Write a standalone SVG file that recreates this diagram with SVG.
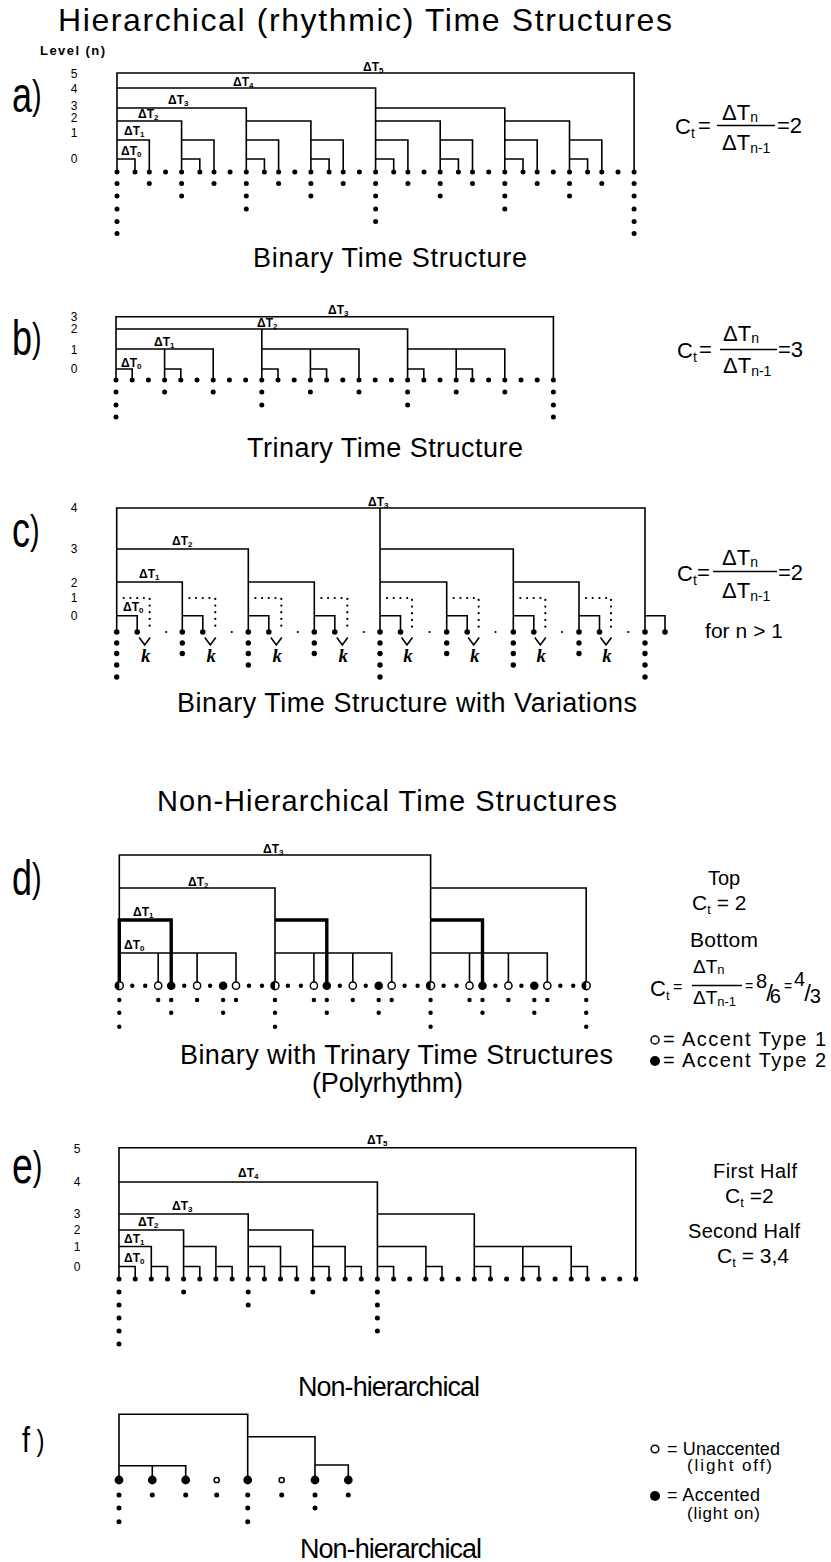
<svg xmlns="http://www.w3.org/2000/svg" width="831" height="1562" viewBox="0 0 831 1562">
<style>
.ln{fill:none;stroke:#000;stroke-width:1.6}
.tk{fill:none;stroke:#000;stroke-width:3.4}
.dl{fill:none;stroke:#000;stroke-width:2.2;stroke-dasharray:0.1 6.6;stroke-linecap:round}
.d{fill:#000}
.o{fill:#fff;stroke:#000;stroke-width:1.5}
text{font-family:"Liberation Sans",Arial,sans-serif;fill:#000}
.h{font-size:27px}
.dt{font-size:12px;font-weight:bold}
.lv{font-size:12px;text-anchor:middle;fill:#000}
.eq{font-size:22px}
.sb{font-size:14px}
.lg{font-size:20px}
.k{font-family:"Liberation Serif",serif;font-style:italic;font-weight:bold;font-size:19px;text-anchor:middle}
</style>
<defs>
<g id="half"><circle r="4" fill="#fff" stroke="#000" stroke-width="1.5"/><path d="M0 -4A4 4 0 0 0 0 4Z" fill="#000"/></g>
</defs>
<rect width="831" height="1562" fill="#fff"/>

<text x="58" y="31" font-size="32" textLength="614" lengthAdjust="spacing">Hierarchical (rhythmic) Time Structures</text>

<!-- ===== a ===== -->
<g id="section-a">
<text transform="translate(12,112) scale(0.72,1)"><tspan font-size="50">a</tspan><tspan font-size="40" dy="-3">)</tspan></text>
<text x="40" y="55" font-size="13" font-weight="bold" textLength="65">Level (n)</text>
<text class="lv" x="74" y="77.5">5</text><text class="lv" x="74" y="93">4</text><text class="lv" x="74" y="110">3</text><text class="lv" x="74" y="121.5">2</text><text class="lv" x="74" y="137">1</text><text class="lv" x="74" y="163">0</text>
<g id="a-connectors">
<path class="ln" d="M117 172V73H634.1V172M117 88H375.6V172M117 108H246.3V172M375.6 108H504.8V172M117 121H181.6V172M246.3 121H310.9V172M375.6 121H440.2V172M504.8 121H569.5V172M117 140H149.3V172M181.6 140H214V172M246.3 140H278.6V172M310.9 140H343.2V172M375.6 140H407.9V172M440.2 140H472.5V172M504.8 140H537.2V172M569.5 140H601.8V172M117 159H135V172M181.6 159H199.8V172M246.3 159H264.4V172M310.9 159H329.1V172M375.6 159H393.7V172M440.2 159H458.4V172M504.8 159H523V172M569.5 159H587.6V172"/>
</g>
<g id="a-labels">
<text class="dt" x="363" y="71">ΔT<tspan font-size="8" dy="2">5</tspan></text>
<text class="dt" x="233" y="86">ΔT<tspan font-size="8" dy="2">4</tspan></text>
<text class="dt" x="168" y="104">ΔT<tspan font-size="8" dy="2">3</tspan></text>
<text class="dt" x="138" y="118">ΔT<tspan font-size="8" dy="2">2</tspan></text>
<text class="dt" x="124" y="135">ΔT<tspan font-size="8" dy="2">1</tspan></text>
<text class="dt" x="121" y="155">ΔT<tspan font-size="8" dy="2">0</tspan></text>
</g>
<g id="a-dots">
<circle class="d" cx="117" cy="172" r="2.5"/><circle class="d" cx="135" cy="172" r="2.5"/><circle class="d" cx="149.3" cy="172" r="2.5"/><circle class="d" cx="165.5" cy="172" r="2.5"/><circle class="d" cx="181.6" cy="172" r="2.5"/><circle class="d" cx="199.8" cy="172" r="2.5"/><circle class="d" cx="214" cy="172" r="2.5"/><circle class="d" cx="230.1" cy="172" r="2.5"/><circle class="d" cx="246.3" cy="172" r="2.5"/><circle class="d" cx="264.4" cy="172" r="2.5"/><circle class="d" cx="278.6" cy="172" r="2.5"/><circle class="d" cx="294.8" cy="172" r="2.5"/><circle class="d" cx="310.9" cy="172" r="2.5"/><circle class="d" cx="329.1" cy="172" r="2.5"/><circle class="d" cx="343.2" cy="172" r="2.5"/><circle class="d" cx="359.4" cy="172" r="2.5"/><circle class="d" cx="375.6" cy="172" r="2.5"/><circle class="d" cx="393.7" cy="172" r="2.5"/><circle class="d" cx="407.9" cy="172" r="2.5"/><circle class="d" cx="424" cy="172" r="2.5"/><circle class="d" cx="440.2" cy="172" r="2.5"/><circle class="d" cx="458.4" cy="172" r="2.5"/><circle class="d" cx="472.5" cy="172" r="2.5"/><circle class="d" cx="488.7" cy="172" r="2.5"/><circle class="d" cx="504.8" cy="172" r="2.5"/><circle class="d" cx="523" cy="172" r="2.5"/><circle class="d" cx="537.2" cy="172" r="2.5"/><circle class="d" cx="553.3" cy="172" r="2.5"/><circle class="d" cx="569.5" cy="172" r="2.5"/><circle class="d" cx="587.6" cy="172" r="2.5"/><circle class="d" cx="601.8" cy="172" r="2.5"/><circle class="d" cx="618" cy="172" r="2.5"/><circle class="d" cx="634.1" cy="172" r="2.5"/>
<circle class="d" cx="117" cy="183.5" r="2.5"/><circle class="d" cx="117" cy="196" r="2.5"/><circle class="d" cx="117" cy="209" r="2.5"/><circle class="d" cx="117" cy="221.5" r="2.5"/><circle class="d" cx="117" cy="233.5" r="2.5"/>
<circle class="d" cx="634.1" cy="183.5" r="2.5"/><circle class="d" cx="634.1" cy="196" r="2.5"/><circle class="d" cx="634.1" cy="209" r="2.5"/><circle class="d" cx="634.1" cy="221.5" r="2.5"/><circle class="d" cx="634.1" cy="233.5" r="2.5"/>
<circle class="d" cx="375.6" cy="183.5" r="2.5"/><circle class="d" cx="375.6" cy="196" r="2.5"/><circle class="d" cx="375.6" cy="209" r="2.5"/><circle class="d" cx="375.6" cy="221.5" r="2.5"/>
<circle class="d" cx="246.3" cy="183.5" r="2.5"/><circle class="d" cx="246.3" cy="196" r="2.5"/><circle class="d" cx="246.3" cy="209" r="2.5"/>
<circle class="d" cx="504.8" cy="183.5" r="2.5"/><circle class="d" cx="504.8" cy="196" r="2.5"/><circle class="d" cx="504.8" cy="209" r="2.5"/>
<circle class="d" cx="181.6" cy="183.5" r="2.5"/><circle class="d" cx="181.6" cy="196" r="2.5"/><circle class="d" cx="310.9" cy="183.5" r="2.5"/><circle class="d" cx="310.9" cy="196" r="2.5"/><circle class="d" cx="440.2" cy="183.5" r="2.5"/><circle class="d" cx="440.2" cy="196" r="2.5"/><circle class="d" cx="569.5" cy="183.5" r="2.5"/><circle class="d" cx="569.5" cy="196" r="2.5"/>
<circle class="d" cx="149.3" cy="183.5" r="2.5"/><circle class="d" cx="214" cy="183.5" r="2.5"/><circle class="d" cx="278.6" cy="183.5" r="2.5"/><circle class="d" cx="343.2" cy="183.5" r="2.5"/><circle class="d" cx="407.9" cy="183.5" r="2.5"/><circle class="d" cx="472.5" cy="183.5" r="2.5"/><circle class="d" cx="537.2" cy="183.5" r="2.5"/><circle class="d" cx="601.8" cy="183.5" r="2.5"/>
</g>
<g id="a-formula">
<text class="eq" x="675" y="134">C<tspan class="sb" dy="4">t</tspan></text>
<text class="eq" x="698" y="133">=</text>
<line class="ln" x1="717" y1="125.5" x2="775" y2="125.5"/>
<text class="eq" x="722" y="120">ΔT<tspan class="sb" dy="2">n</tspan></text>
<text class="eq" x="722" y="150">ΔT<tspan class="sb" dy="3">n-1</tspan></text>
<text class="eq" x="777" y="133">=2</text>
</g>
<text class="h" x="253" y="267" textLength="274" lengthAdjust="spacing">Binary Time Structure</text>
</g>

<!-- ===== b ===== -->
<g id="section-b">
<text transform="translate(12,355) scale(0.72,1)"><tspan font-size="50">b</tspan><tspan font-size="40" dy="-3">)</tspan></text>
<text class="lv" x="74" y="321">3</text><text class="lv" x="74" y="333">2</text><text class="lv" x="74" y="354">1</text><text class="lv" x="74" y="373">0</text>
<g id="b-connectors">
<path class="ln" d="M116 380V316.7H553.4V380M116 329H407.6V380M261.8 329V380M116 349H213.2V380M164.6 349V380M261.8 349H359V380M310.4 349V380M407.6 349H504.8V380M456.2 349V380M116 369H132.2V380M164.6 369H180.8V380M261.8 369H278V380M310.4 369H326.6V380M407.6 369H423.8V380M456.2 369H472.4V380"/>
</g>
<g id="b-labels">
<text class="dt" x="328" y="314">ΔT<tspan font-size="8" dy="2">3</tspan></text>
<text class="dt" x="257" y="327">ΔT<tspan font-size="8" dy="2">2</tspan></text>
<text class="dt" x="154" y="346">ΔT<tspan font-size="8" dy="2">1</tspan></text>
<text class="dt" x="121" y="367">ΔT<tspan font-size="8" dy="2">0</tspan></text>
</g>
<g id="b-dots">
<circle class="d" cx="116" cy="380" r="2.5"/><circle class="d" cx="132.2" cy="380" r="2.5"/><circle class="d" cx="148.4" cy="380" r="2.5"/><circle class="d" cx="164.6" cy="380" r="2.5"/><circle class="d" cx="180.8" cy="380" r="2.5"/><circle class="d" cx="197" cy="380" r="2.5"/><circle class="d" cx="213.2" cy="380" r="2.5"/><circle class="d" cx="229.4" cy="380" r="2.5"/><circle class="d" cx="245.6" cy="380" r="2.5"/><circle class="d" cx="261.8" cy="380" r="2.5"/><circle class="d" cx="278" cy="380" r="2.5"/><circle class="d" cx="294.2" cy="380" r="2.5"/><circle class="d" cx="310.4" cy="380" r="2.5"/><circle class="d" cx="326.6" cy="380" r="2.5"/><circle class="d" cx="342.8" cy="380" r="2.5"/><circle class="d" cx="359" cy="380" r="2.5"/><circle class="d" cx="375.2" cy="380" r="2.5"/><circle class="d" cx="391.4" cy="380" r="2.5"/><circle class="d" cx="407.6" cy="380" r="2.5"/><circle class="d" cx="423.8" cy="380" r="2.5"/><circle class="d" cx="440" cy="380" r="2.5"/><circle class="d" cx="456.2" cy="380" r="2.5"/><circle class="d" cx="472.4" cy="380" r="2.5"/><circle class="d" cx="488.6" cy="380" r="2.5"/><circle class="d" cx="504.8" cy="380" r="2.5"/><circle class="d" cx="521" cy="380" r="2.5"/><circle class="d" cx="537.2" cy="380" r="2.5"/><circle class="d" cx="553.4" cy="380" r="2.5"/>
<circle class="d" cx="116" cy="392" r="2.5"/><circle class="d" cx="116" cy="405" r="2.5"/><circle class="d" cx="116" cy="417" r="2.5"/>
<circle class="d" cx="553.4" cy="392" r="2.5"/><circle class="d" cx="553.4" cy="405" r="2.5"/><circle class="d" cx="553.4" cy="417" r="2.5"/>
<circle class="d" cx="261.8" cy="392" r="2.5"/><circle class="d" cx="261.8" cy="405" r="2.5"/><circle class="d" cx="407.6" cy="392" r="2.5"/><circle class="d" cx="407.6" cy="405" r="2.5"/>
<circle class="d" cx="164.6" cy="392" r="2.5"/><circle class="d" cx="213.2" cy="392" r="2.5"/><circle class="d" cx="310.4" cy="392" r="2.5"/><circle class="d" cx="359" cy="392" r="2.5"/><circle class="d" cx="456.2" cy="392" r="2.5"/><circle class="d" cx="504.8" cy="392" r="2.5"/>
</g>
<g id="b-formula">
<text class="eq" x="677" y="358">C<tspan class="sb" dy="4">t</tspan></text>
<text class="eq" x="699" y="357">=</text>
<line class="ln" x1="720" y1="349.5" x2="777" y2="349.5"/>
<text class="eq" x="723" y="341">ΔT<tspan class="sb" dy="2">n</tspan></text>
<text class="eq" x="723" y="373">ΔT<tspan class="sb" dy="3">n-1</tspan></text>
<text class="eq" x="778" y="357">=3</text>
</g>
<text class="h" x="247" y="457" textLength="276" lengthAdjust="spacing">Trinary Time Structure</text>
</g>

<!-- ===== c ===== -->
<g id="section-c">
<text transform="translate(12,547) scale(0.72,1)"><tspan font-size="50">c</tspan><tspan font-size="40" dy="-3">)</tspan></text>
<text class="lv" x="74" y="512">4</text><text class="lv" x="74" y="553">3</text><text class="lv" x="74" y="586.5">2</text><text class="lv" x="74" y="602">1</text><text class="lv" x="74" y="620">0</text>
<g id="c-connectors">
<path class="ln" d="M116.7 632V508H645V632M380 508V632M116.7 549H248.3V632M380 549H513.3V632M116.7 582H182.3V632M248.3 582H314.3V632M380 582H446.7V632M513.3 582H579V632M116.7 615.7H137.2V632M182.3 615.7H202.8V632M248.3 615.7H268.8V632M314.3 615.7H334.8V632M380 615.7H400.5V632M446.7 615.7H467.2V632M513.3 615.7H533.8V632M579 615.7H599.5V632M645 615.7H665V632"/>
<path class="dl" d="M123.7 598H149.7V632M189.3 598H215.3V632M255.3 598H281.3V632M321.3 598H347.3V632M387 598H412V632M453.7 598H478.7V632M520.3 598H545.3V632M586 598H611V632"/>
<path class="ln" d="M139.2 637.5L144.7 645L150.2 637.5M204.8 637.5L210.3 645L215.8 637.5M270.8 637.5L276.3 645L281.8 637.5M336.8 637.5L342.3 645L347.8 637.5M401.5 637.5L407 645L412.5 637.5M468.2 637.5L473.7 645L479.2 637.5M534.8 637.5L540.3 645L545.8 637.5M600.5 637.5L606 645L611.5 637.5"/>
</g>
<g id="c-k">
<text class="k" x="145.7" y="662">k</text><text class="k" x="211.3" y="662">k</text><text class="k" x="277.3" y="662">k</text><text class="k" x="343.3" y="662">k</text><text class="k" x="408" y="662">k</text><text class="k" x="474.7" y="662">k</text><text class="k" x="541.3" y="662">k</text><text class="k" x="607" y="662">k</text>
</g>
<g id="c-labels">
<text class="dt" x="368" y="506">ΔT<tspan font-size="8" dy="2">3</tspan></text>
<text class="dt" x="172" y="545">ΔT<tspan font-size="8" dy="2">2</tspan></text>
<text class="dt" x="139" y="578">ΔT<tspan font-size="8" dy="2">1</tspan></text>
<text class="dt" x="123" y="611">ΔT<tspan font-size="8" dy="2">0</tspan></text>
</g>
<g id="c-dots">
<circle class="d" cx="116.7" cy="632" r="2.8"/><circle class="d" cx="137.2" cy="632" r="2.8"/><circle class="d" cx="166.2" cy="632" r="1.1"/>
<circle class="d" cx="182.3" cy="632" r="2.8"/><circle class="d" cx="202.8" cy="632" r="2.8"/><circle class="d" cx="231.8" cy="632" r="1.1"/>
<circle class="d" cx="248.3" cy="632" r="2.8"/><circle class="d" cx="268.8" cy="632" r="2.8"/><circle class="d" cx="297.8" cy="632" r="1.1"/>
<circle class="d" cx="314.3" cy="632" r="2.8"/><circle class="d" cx="334.8" cy="632" r="2.8"/><circle class="d" cx="363.8" cy="632" r="1.1"/>
<circle class="d" cx="380" cy="632" r="2.8"/><circle class="d" cx="400.5" cy="632" r="2.8"/><circle class="d" cx="429.5" cy="632" r="1.1"/>
<circle class="d" cx="446.7" cy="632" r="2.8"/><circle class="d" cx="467.2" cy="632" r="2.8"/><circle class="d" cx="495.5" cy="632" r="1.1"/>
<circle class="d" cx="513.3" cy="632" r="2.8"/><circle class="d" cx="533.8" cy="632" r="2.8"/><circle class="d" cx="562" cy="632" r="1.1"/>
<circle class="d" cx="579" cy="632" r="2.8"/><circle class="d" cx="599.5" cy="632" r="2.8"/><circle class="d" cx="628.3" cy="632" r="1.1"/>
<circle class="d" cx="645" cy="632" r="2.8"/><circle class="d" cx="665" cy="632" r="2.8"/>
<circle class="d" cx="116.7" cy="643" r="2.7"/><circle class="d" cx="116.7" cy="653.5" r="2.7"/><circle class="d" cx="116.7" cy="665" r="2.7"/><circle class="d" cx="116.7" cy="677" r="2.7"/>
<circle class="d" cx="380" cy="643" r="2.7"/><circle class="d" cx="380" cy="653.5" r="2.7"/><circle class="d" cx="380" cy="665" r="2.7"/><circle class="d" cx="380" cy="677" r="2.7"/>
<circle class="d" cx="645" cy="643" r="2.7"/><circle class="d" cx="645" cy="653.5" r="2.7"/><circle class="d" cx="645" cy="665" r="2.7"/><circle class="d" cx="645" cy="677" r="2.7"/>
<circle class="d" cx="248.3" cy="643" r="2.7"/><circle class="d" cx="248.3" cy="653.5" r="2.7"/><circle class="d" cx="248.3" cy="665" r="2.7"/>
<circle class="d" cx="513.3" cy="643" r="2.7"/><circle class="d" cx="513.3" cy="653.5" r="2.7"/><circle class="d" cx="513.3" cy="665" r="2.7"/>
<circle class="d" cx="182.3" cy="643" r="2.7"/><circle class="d" cx="182.3" cy="653.5" r="2.7"/><circle class="d" cx="314.3" cy="643" r="2.7"/><circle class="d" cx="314.3" cy="653.5" r="2.7"/><circle class="d" cx="446.7" cy="643" r="2.7"/><circle class="d" cx="446.7" cy="653.5" r="2.7"/><circle class="d" cx="579" cy="643" r="2.7"/><circle class="d" cx="579" cy="653.5" r="2.7"/>
</g>
<g id="c-formula">
<text class="eq" x="677" y="581">C<tspan class="sb" dy="4">t</tspan></text>
<text class="eq" x="697" y="580">=</text>
<line class="ln" x1="713" y1="571.5" x2="777" y2="571.5"/>
<text class="eq" x="722" y="565">ΔT<tspan class="sb" dy="2">n</tspan></text>
<text class="eq" x="722" y="598">ΔT<tspan class="sb" dy="3">n-1</tspan></text>
<text class="eq" x="778" y="580">=2</text>
<text x="705" y="638" font-size="21" textLength="78">for n &gt; 1</text>
</g>
<text class="h" x="177" y="712" textLength="460" lengthAdjust="spacing">Binary Time Structure with Variations</text>
</g>

<text x="157" y="811" font-size="29" textLength="460" lengthAdjust="spacing">Non-Hierarchical Time Structures</text>

<!-- ===== d ===== -->
<g id="section-d">
<text transform="translate(12,895) scale(0.72,1)"><tspan font-size="50">d</tspan><tspan font-size="40" dy="-3">)</tspan></text>
<g id="d-connectors">
<path class="ln" d="M119.3 985.7V855H430.6V985.7M119.3 888H275V985.7M430.6 888H586.2V985.7M119.3 953H236V985.7M158.2 953V985.7M197.1 953V985.7M275 953H391.7V985.7M313.9 953V985.7M352.8 953V985.7M430.6 953H547.3V985.7M469.5 953V985.7M508.4 953V985.7"/>
<path class="tk" d="M119.3 985.7V920H171.2V985.7M275 920H326.8V985.7M430.6 920H482.5V985.7"/>
</g>
<g id="d-labels">
<text class="dt" x="263" y="853">ΔT<tspan font-size="8" dy="2">3</tspan></text>
<text class="dt" x="188" y="886">ΔT<tspan font-size="8" dy="2">2</tspan></text>
<text class="dt" x="133" y="916">ΔT<tspan font-size="8" dy="2">1</tspan></text>
<text class="dt" x="124" y="949">ΔT<tspan font-size="8" dy="2">0</tspan></text>
</g>
<g id="d-dots">
<circle class="d" cx="132.3" cy="985.7" r="2.2"/><circle class="d" cx="145.2" cy="985.7" r="2.2"/><circle class="d" cx="184.2" cy="985.7" r="2.2"/><circle class="d" cx="210.1" cy="985.7" r="2.2"/><circle class="d" cx="249" cy="985.7" r="2.2"/><circle class="d" cx="262" cy="985.7" r="2.2"/><circle class="d" cx="287.9" cy="985.7" r="2.2"/><circle class="d" cx="300.9" cy="985.7" r="2.2"/><circle class="d" cx="339.8" cy="985.7" r="2.2"/><circle class="d" cx="365.7" cy="985.7" r="2.2"/><circle class="d" cx="404.6" cy="985.7" r="2.2"/><circle class="d" cx="417.6" cy="985.7" r="2.2"/><circle class="d" cx="443.6" cy="985.7" r="2.2"/><circle class="d" cx="456.5" cy="985.7" r="2.2"/><circle class="d" cx="495.4" cy="985.7" r="2.2"/><circle class="d" cx="521.4" cy="985.7" r="2.2"/><circle class="d" cx="560.3" cy="985.7" r="2.2"/><circle class="d" cx="573.2" cy="985.7" r="2.2"/>
<circle class="d" cx="171.2" cy="985.7" r="4.3"/><circle class="d" cx="223.1" cy="985.7" r="4.3"/><circle class="d" cx="326.8" cy="985.7" r="4.3"/><circle class="d" cx="378.7" cy="985.7" r="4.3"/><circle class="d" cx="482.5" cy="985.7" r="4.3"/><circle class="d" cx="534.3" cy="985.7" r="4.3"/>
<circle class="o" cx="158.2" cy="985.7" r="3.6"/><circle class="o" cx="197.1" cy="985.7" r="3.6"/><circle class="o" cx="236" cy="985.7" r="3.6"/><circle class="o" cx="313.9" cy="985.7" r="3.6"/><circle class="o" cx="352.8" cy="985.7" r="3.6"/><circle class="o" cx="391.7" cy="985.7" r="3.6"/><circle class="o" cx="469.5" cy="985.7" r="3.6"/><circle class="o" cx="508.4" cy="985.7" r="3.6"/><circle class="o" cx="547.3" cy="985.7" r="3.6"/>
<use href="#half" x="119.3" y="985.7"/><use href="#half" x="275" y="985.7"/><use href="#half" x="430.6" y="985.7"/><use href="#half" x="586.2" y="985.7"/>
<circle class="d" cx="119.3" cy="1000" r="2.2"/><circle class="d" cx="119.3" cy="1012.7" r="2.2"/><circle class="d" cx="119.3" cy="1026.7" r="2.2"/>
<circle class="d" cx="275" cy="1000" r="2.2"/><circle class="d" cx="275" cy="1012.7" r="2.2"/><circle class="d" cx="275" cy="1026.7" r="2.2"/>
<circle class="d" cx="430.6" cy="1000" r="2.2"/><circle class="d" cx="430.6" cy="1012.7" r="2.2"/><circle class="d" cx="430.6" cy="1026.7" r="2.2"/>
<circle class="d" cx="586.2" cy="1000" r="2.2"/><circle class="d" cx="586.2" cy="1012.7" r="2.2"/><circle class="d" cx="586.2" cy="1026.7" r="2.2"/>
<circle class="d" cx="171.2" cy="1000" r="2.2"/><circle class="d" cx="171.2" cy="1012.7" r="2.2"/><circle class="d" cx="223.1" cy="1000" r="2.2"/><circle class="d" cx="223.1" cy="1012.7" r="2.2"/><circle class="d" cx="326.8" cy="1000" r="2.2"/><circle class="d" cx="326.8" cy="1012.7" r="2.2"/><circle class="d" cx="378.7" cy="1000" r="2.2"/><circle class="d" cx="378.7" cy="1012.7" r="2.2"/><circle class="d" cx="482.5" cy="1000" r="2.2"/><circle class="d" cx="482.5" cy="1012.7" r="2.2"/><circle class="d" cx="534.3" cy="1000" r="2.2"/><circle class="d" cx="534.3" cy="1012.7" r="2.2"/>
<circle class="d" cx="158.2" cy="1000" r="2.2"/><circle class="d" cx="197.1" cy="1000" r="2.2"/><circle class="d" cx="236" cy="1000" r="2.2"/><circle class="d" cx="313.9" cy="1000" r="2.2"/><circle class="d" cx="352.8" cy="1000" r="2.2"/><circle class="d" cx="391.7" cy="1000" r="2.2"/><circle class="d" cx="469.5" cy="1000" r="2.2"/><circle class="d" cx="508.4" cy="1000" r="2.2"/><circle class="d" cx="547.3" cy="1000" r="2.2"/>
</g>
<g id="d-formula">
<text x="708" y="885" font-size="20" textLength="32">Top</text>
<text x="692" y="910" font-size="21">C<tspan font-size="13" dy="4">t</tspan><tspan dy="-4"> = 2</tspan></text>
<text x="690" y="947" font-size="21" textLength="68">Bottom</text>
<text x="650" y="996" font-size="22">C<tspan font-size="13" dy="4">t</tspan></text>
<text x="673" y="992" font-size="16">=</text>
<line class="ln" x1="692" y1="985.5" x2="742" y2="985.5"/>
<text x="693" y="973" font-size="19">ΔT<tspan font-size="13" dy="1">n</tspan></text>
<text x="693" y="1004" font-size="19">ΔT<tspan font-size="13" dy="2">n-1</tspan></text>
<text x="745" y="991" font-size="14">=</text>
<text x="756" y="988" font-size="20">8<tspan font-size="24" dx="-1" dy="13">/</tspan><tspan dx="-3" dy="2">6</tspan></text>
<text x="784" y="991" font-size="14">=</text>
<text x="794" y="986" font-size="20">4<tspan font-size="24" dx="-1" dy="15">/</tspan><tspan dx="-1" dy="2">3</tspan></text>
</g>
<g id="d-legend">
<circle class="o" cx="655" cy="1040" r="4"/>
<text class="lg" x="663" y="1046" textLength="163">= Accent Type 1</text>
<circle class="d" cx="655" cy="1061" r="5"/>
<text class="lg" x="663" y="1067" textLength="163">= Accent Type 2</text>
</g>
<text class="h" x="180" y="1064" textLength="433" lengthAdjust="spacing">Binary with Trinary Time Structures</text>
<text class="h" x="312" y="1092" textLength="151" lengthAdjust="spacing">(Polyrhythm)</text>
</g>

<!-- ===== e ===== -->
<g id="section-e">
<text transform="translate(12,1183) scale(0.72,1)"><tspan font-size="52">e</tspan><tspan font-size="40" dy="-3">)</tspan></text>
<text class="lv" x="77" y="1153">5</text><text class="lv" x="77" y="1186">4</text><text class="lv" x="77" y="1218">3</text><text class="lv" x="77" y="1234">2</text><text class="lv" x="77" y="1251">1</text><text class="lv" x="77" y="1271">0</text>
<g id="e-connectors">
<path class="ln" d="M119 1279V1147.7H635.8V1279M119 1182H377.4V1279M119 1214H248.2V1279M377.4 1214H474.3V1279M119 1230H183.6V1279M248.2 1230H312.8V1279M119 1246.5H151.3V1279M183.6 1246.5H215.9V1279M248.2 1246.5H280.5V1279M312.8 1246.5H345.1V1279M377.4 1246.5H425.9V1279M474.3 1246.5H571.2V1279M522.8 1246.5V1279M119 1266.5H135.2V1279M151.3 1266.5H167.5V1279M183.6 1266.5H199.8V1279M215.9 1266.5H232.1V1279M248.2 1266.5H264.4V1279M280.5 1266.5H296.7V1279M312.8 1266.5H329V1279M345.1 1266.5H361.3V1279M377.4 1266.5H393.6V1279M425.9 1266.5H442V1279M474.3 1266.5H490.5V1279M522.8 1266.5H538.9V1279M571.2 1266.5H587.4V1279"/>
</g>
<g id="e-labels">
<text class="dt" x="367" y="1144">ΔT<tspan font-size="8" dy="2">5</tspan></text>
<text class="dt" x="238" y="1177">ΔT<tspan font-size="8" dy="2">4</tspan></text>
<text class="dt" x="172" y="1210">ΔT<tspan font-size="8" dy="2">3</tspan></text>
<text class="dt" x="138" y="1226">ΔT<tspan font-size="8" dy="2">2</tspan></text>
<text class="dt" x="124" y="1243">ΔT<tspan font-size="8" dy="2">1</tspan></text>
<text class="dt" x="124" y="1262">ΔT<tspan font-size="8" dy="2">0</tspan></text>
</g>
<g id="e-dots">
<circle class="d" cx="119" cy="1279" r="2.5"/><circle class="d" cx="135.2" cy="1279" r="2.5"/><circle class="d" cx="151.3" cy="1279" r="2.5"/><circle class="d" cx="167.5" cy="1279" r="2.5"/><circle class="d" cx="183.6" cy="1279" r="2.5"/><circle class="d" cx="199.8" cy="1279" r="2.5"/><circle class="d" cx="215.9" cy="1279" r="2.5"/><circle class="d" cx="232.1" cy="1279" r="2.5"/><circle class="d" cx="248.2" cy="1279" r="2.5"/><circle class="d" cx="264.4" cy="1279" r="2.5"/><circle class="d" cx="280.5" cy="1279" r="2.5"/><circle class="d" cx="296.7" cy="1279" r="2.5"/><circle class="d" cx="312.8" cy="1279" r="2.5"/><circle class="d" cx="329" cy="1279" r="2.5"/><circle class="d" cx="345.1" cy="1279" r="2.5"/><circle class="d" cx="361.3" cy="1279" r="2.5"/><circle class="d" cx="377.4" cy="1279" r="2.5"/><circle class="d" cx="393.6" cy="1279" r="2.5"/><circle class="d" cx="409.7" cy="1279" r="2.5"/><circle class="d" cx="425.9" cy="1279" r="2.5"/><circle class="d" cx="442" cy="1279" r="2.5"/><circle class="d" cx="458.2" cy="1279" r="2.5"/><circle class="d" cx="474.3" cy="1279" r="2.5"/><circle class="d" cx="490.5" cy="1279" r="2.5"/><circle class="d" cx="506.6" cy="1279" r="2.5"/><circle class="d" cx="522.8" cy="1279" r="2.5"/><circle class="d" cx="538.9" cy="1279" r="2.5"/><circle class="d" cx="555.1" cy="1279" r="2.5"/><circle class="d" cx="571.2" cy="1279" r="2.5"/><circle class="d" cx="587.4" cy="1279" r="2.5"/><circle class="d" cx="603.5" cy="1279" r="2.5"/><circle class="d" cx="619.7" cy="1279" r="2.5"/><circle class="d" cx="635.8" cy="1279" r="2.5"/>
<circle class="d" cx="119" cy="1292" r="2.5"/><circle class="d" cx="119" cy="1305" r="2.5"/><circle class="d" cx="119" cy="1318" r="2.5"/><circle class="d" cx="119" cy="1331" r="2.5"/><circle class="d" cx="119" cy="1344" r="2.5"/>
<circle class="d" cx="377.4" cy="1292" r="2.5"/><circle class="d" cx="377.4" cy="1305" r="2.5"/><circle class="d" cx="377.4" cy="1318" r="2.5"/><circle class="d" cx="377.4" cy="1331" r="2.5"/>
<circle class="d" cx="248.2" cy="1292" r="2.5"/><circle class="d" cx="248.2" cy="1305" r="2.5"/>
<circle class="d" cx="183.6" cy="1292" r="2.5"/><circle class="d" cx="312.8" cy="1292" r="2.5"/>
</g>
<g id="e-formula">
<text x="713" y="1178" font-size="20" textLength="84">First Half</text>
<text x="725" y="1203" font-size="21">C<tspan font-size="13" dy="4">t</tspan><tspan dy="-4"> =2</tspan></text>
<text x="688" y="1238" font-size="20" textLength="112">Second Half</text>
<text x="717" y="1263" font-size="21">C<tspan font-size="13" dy="4">t</tspan><tspan dy="-4"> = 3,4</tspan></text>
</g>
<text class="h" x="298" y="1396" textLength="182" lengthAdjust="spacing">Non-hierarchical</text>
</g>

<!-- ===== f ===== -->
<g id="section-f">
<text transform="translate(22,1452) scale(0.8,1)"><tspan font-size="36">f</tspan><tspan font-size="30" dx="8" dy="-1">)</tspan></text>
<g id="f-connectors">
<path class="ln" d="M119 1480V1414.3H247.7V1480M247.7 1436.7H315V1480M315 1465H348.3V1480M119 1465.7H185.7V1480M152.3 1465.7V1480"/>
</g>
<g id="f-dots">
<circle class="d" cx="119" cy="1480" r="4.4"/><circle class="d" cx="152.3" cy="1480" r="4.4"/><circle class="d" cx="185.7" cy="1480" r="4.4"/><circle class="d" cx="247.7" cy="1480" r="4.4"/><circle class="d" cx="315" cy="1480" r="4.4"/><circle class="d" cx="348.3" cy="1480" r="4.4"/>
<circle class="o" cx="216.7" cy="1480" r="2.6"/><circle class="o" cx="281.7" cy="1480" r="2.6"/>
<circle class="d" cx="119" cy="1495" r="2.5"/><circle class="d" cx="119" cy="1508" r="2.5"/><circle class="d" cx="119" cy="1521.7" r="2.5"/>
<circle class="d" cx="247.7" cy="1495" r="2.5"/><circle class="d" cx="247.7" cy="1508" r="2.5"/><circle class="d" cx="247.7" cy="1521.7" r="2.5"/>
<circle class="d" cx="315" cy="1495" r="2.5"/><circle class="d" cx="315" cy="1508" r="2.5"/>
<circle class="d" cx="152.3" cy="1495" r="2.5"/><circle class="d" cx="185.7" cy="1495" r="2.5"/><circle class="d" cx="216.7" cy="1495" r="2.5"/><circle class="d" cx="281.7" cy="1495" r="2.5"/><circle class="d" cx="348.3" cy="1495" r="2.5"/>
</g>
<g id="f-legend">
<circle class="o" cx="655" cy="1449" r="3.8"/>
<text x="667" y="1455" font-size="18" textLength="113">= Unaccented</text>
<text x="687" y="1471" font-size="17" textLength="85">(light off)</text>
<circle class="d" cx="655" cy="1496" r="5"/>
<text x="667" y="1501" font-size="18" textLength="93">= Accented</text>
<text x="687" y="1519" font-size="17" textLength="73">(light on)</text>
</g>
<text class="h" x="300" y="1558" textLength="182" lengthAdjust="spacing">Non-hierarchical</text>
</g>
</svg>
